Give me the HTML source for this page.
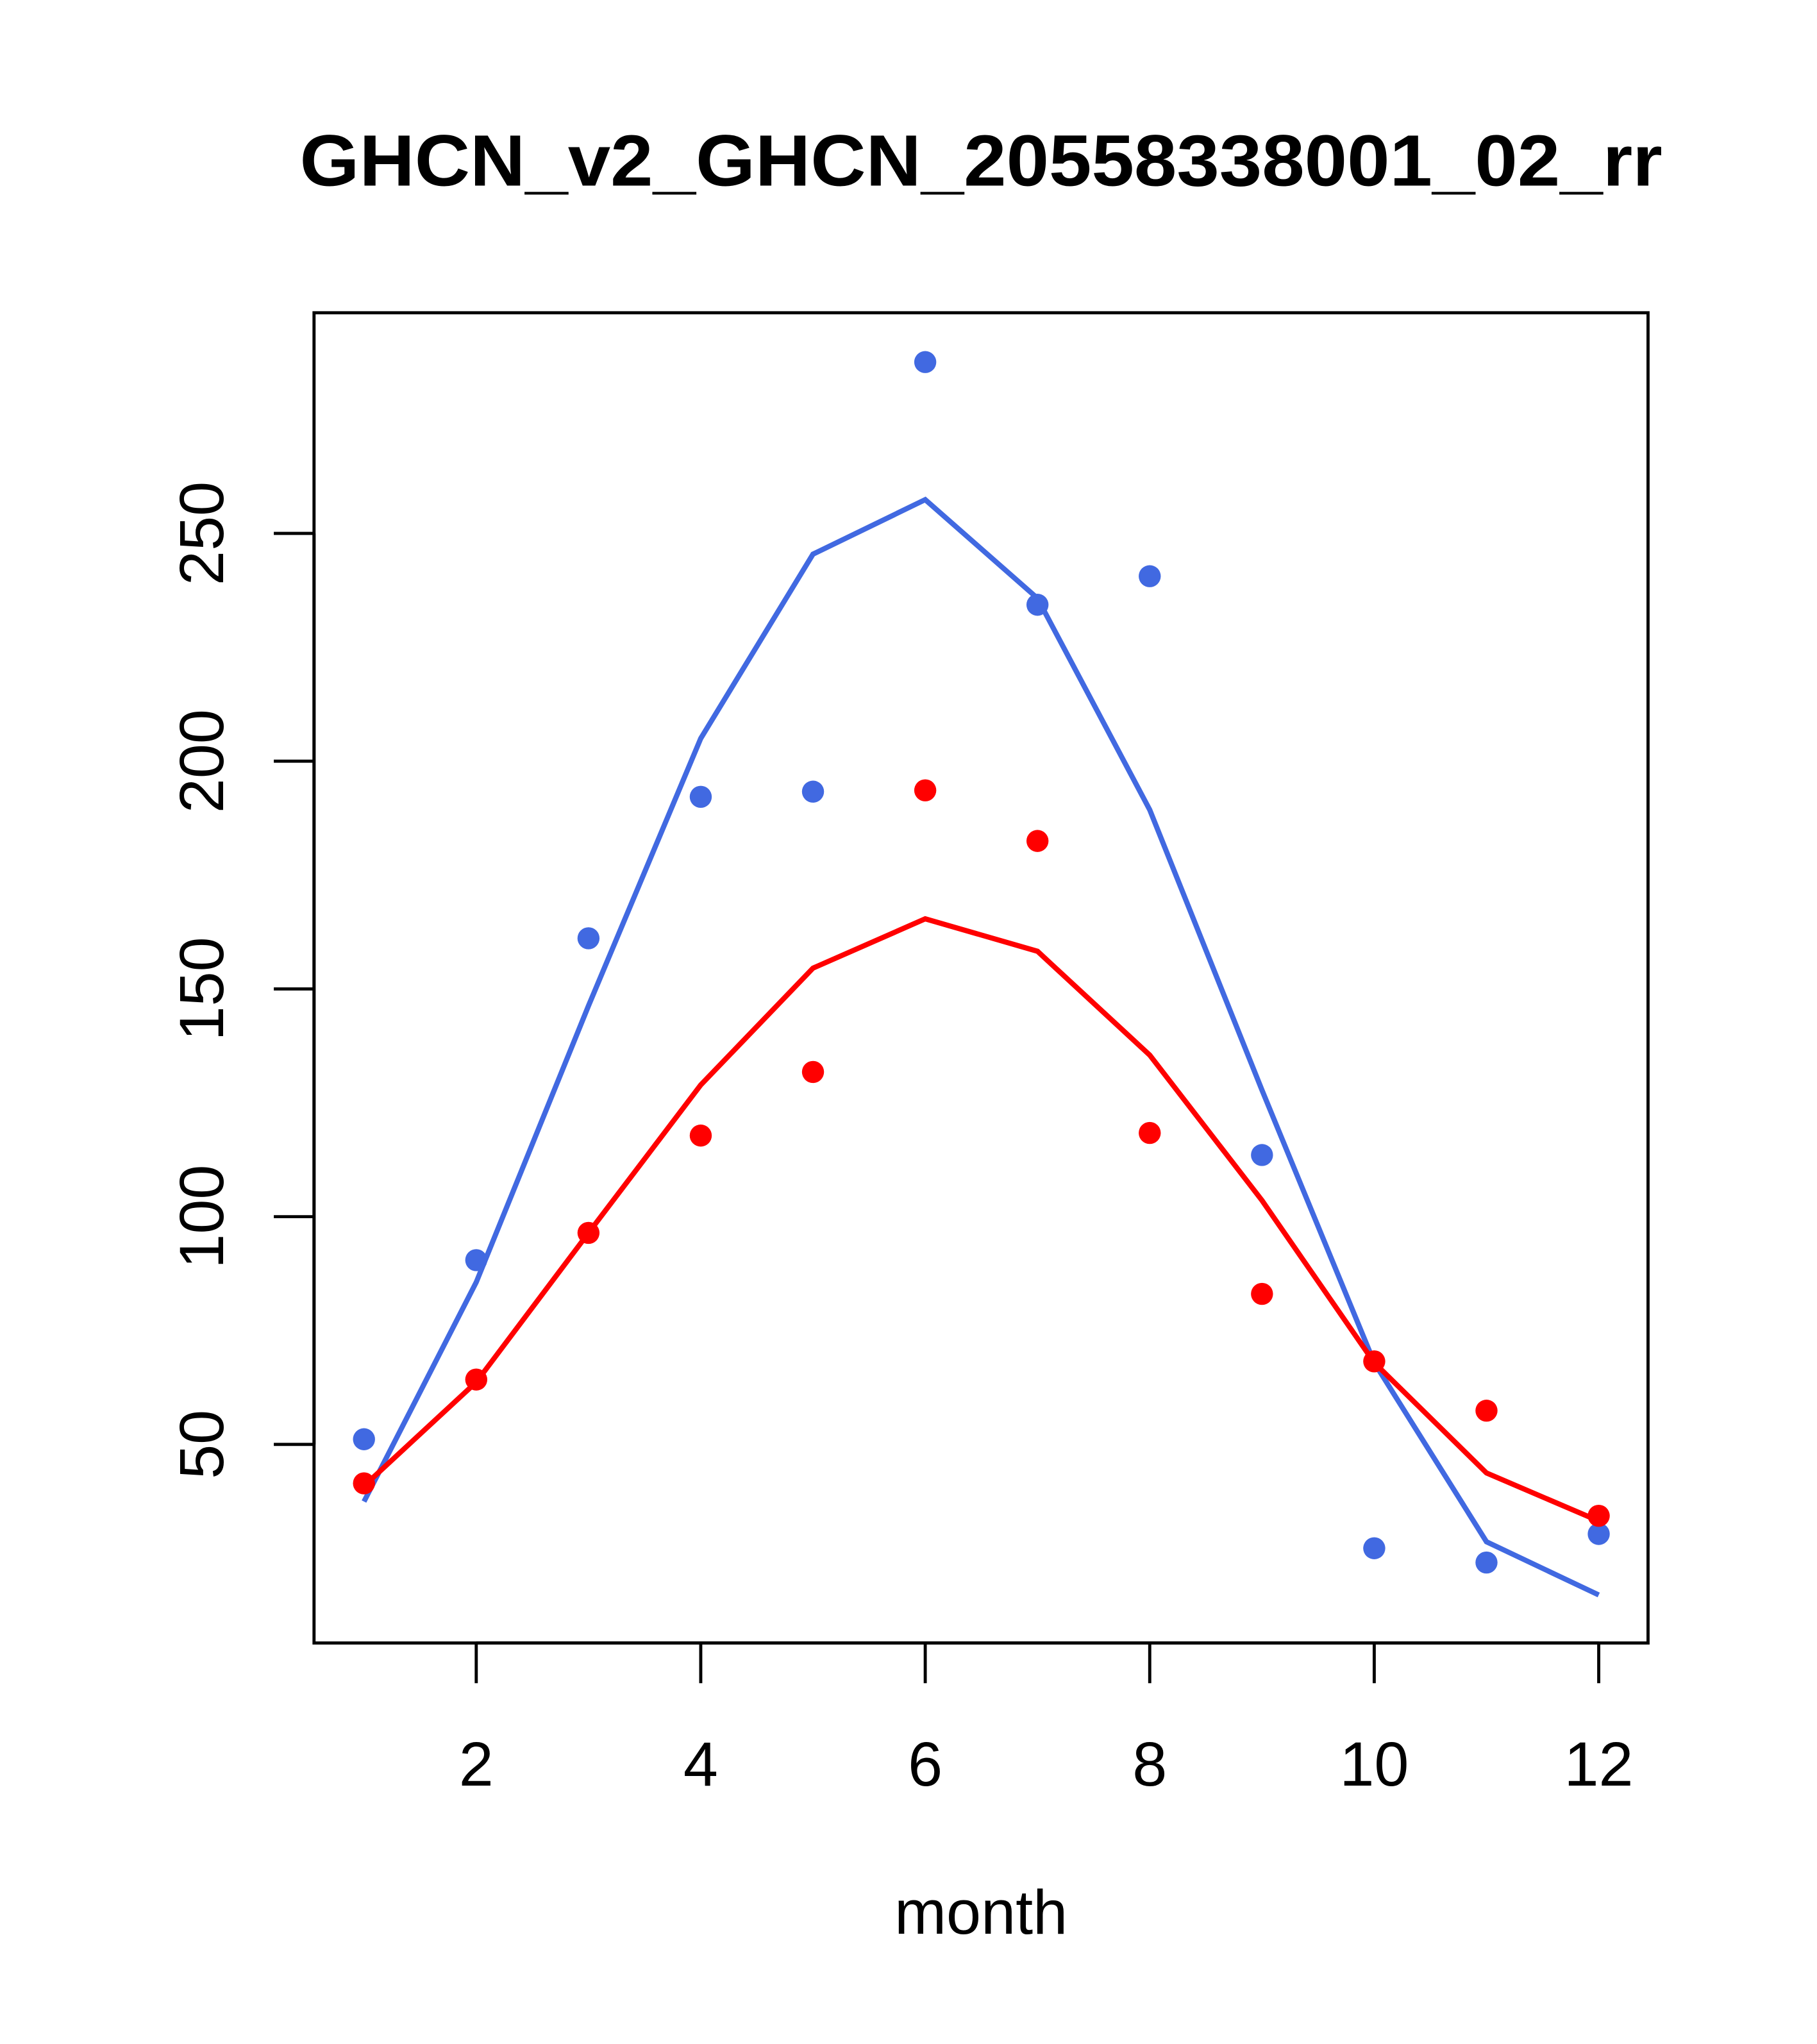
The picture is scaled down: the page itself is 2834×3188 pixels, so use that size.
<!DOCTYPE html>
<html><head><style>html,body{margin:0;padding:0;background:#fff;}svg{display:block;}</style></head>
<body>
<svg width="2834" height="3188" viewBox="0 0 1400.2 1575" preserveAspectRatio="none" xmlns="http://www.w3.org/2000/svg" font-family="Liberation Sans, sans-serif">
<rect x="0" y="0" width="1400.2" height="1575" fill="#fff"/>
<text x="756" y="143" text-anchor="middle" font-size="56" font-weight="bold" textLength="1050" lengthAdjust="spacingAndGlyphs">GHCN_v2_GHCN_20558338001_02_rr</text>
<rect x="242" y="241" width="1028" height="1025" fill="none" stroke="#000" stroke-width="2.4"/>
<g stroke="#000" stroke-width="2.4">
<line x1="367" y1="1266" x2="1232" y2="1266"/>
<line x1="367" y1="1266" x2="367" y2="1297"/><line x1="540" y1="1266" x2="540" y2="1297"/>
<line x1="713" y1="1266" x2="713" y2="1297"/><line x1="886" y1="1266" x2="886" y2="1297"/>
<line x1="1059" y1="1266" x2="1059" y2="1297"/><line x1="1232" y1="1266" x2="1232" y2="1297"/>
<line x1="242" y1="411" x2="242" y2="1113"/>
<line x1="242" y1="411" x2="211" y2="411"/><line x1="242" y1="586.5" x2="211" y2="586.5"/>
<line x1="242" y1="762" x2="211" y2="762"/><line x1="242" y1="937.5" x2="211" y2="937.5"/>
<line x1="242" y1="1113" x2="211" y2="1113"/>
</g>
<g font-size="48" text-anchor="middle">
<text x="367" y="1376">2</text><text x="540" y="1376">4</text><text x="713" y="1376">6</text>
<text x="886" y="1376">8</text><text x="1059" y="1376">10</text><text x="1232" y="1376">12</text>
<text transform="translate(172,411) rotate(-90)">250</text>
<text transform="translate(172,586.5) rotate(-90)">200</text>
<text transform="translate(172,762) rotate(-90)">150</text>
<text transform="translate(172,937.5) rotate(-90)">100</text>
<text transform="translate(172,1113) rotate(-90)">50</text>
<text x="756" y="1490">month</text>
</g>
<polyline fill="none" stroke="#4169E1" stroke-width="4" points="280.5,1157 367,988 453.5,775 540,569 626.5,427 713,385 799.5,461 886,624 972.5,840 1059,1050 1145.5,1188 1232,1229"/>
<polyline fill="none" stroke="#FF0000" stroke-width="4" points="280.5,1145 367,1065 453.5,950 540,836 626.5,746 713,708 799.5,733 886,813 972.5,925 1059,1050 1145.5,1135 1232,1172"/>
<g fill="#4169E1">
<circle cx="280.5" cy="1109" r="8.5"/><circle cx="367" cy="971" r="8.5"/><circle cx="453.5" cy="723" r="8.5"/>
<circle cx="540" cy="614" r="8.5"/><circle cx="626.5" cy="610" r="8.5"/><circle cx="713" cy="279" r="8.5"/>
<circle cx="799.5" cy="466" r="8.5"/><circle cx="886" cy="444" r="8.5"/><circle cx="972.5" cy="890" r="8.5"/>
<circle cx="1059" cy="1193" r="8.5"/><circle cx="1145.5" cy="1204" r="8.5"/><circle cx="1232" cy="1182" r="8.5"/>
</g>
<g fill="#FF0000">
<circle cx="280.5" cy="1143" r="8.5"/><circle cx="367" cy="1063" r="8.5"/><circle cx="453.5" cy="950" r="8.5"/>
<circle cx="540" cy="875" r="8.5"/><circle cx="626.5" cy="826" r="8.5"/><circle cx="713" cy="609" r="8.5"/>
<circle cx="799.5" cy="648" r="8.5"/><circle cx="886" cy="873" r="8.5"/><circle cx="972.5" cy="997" r="8.5"/>
<circle cx="1059" cy="1049" r="8.5"/><circle cx="1145.5" cy="1087" r="8.5"/><circle cx="1232" cy="1168" r="8.5"/>
</g>
</svg>
</body></html>
